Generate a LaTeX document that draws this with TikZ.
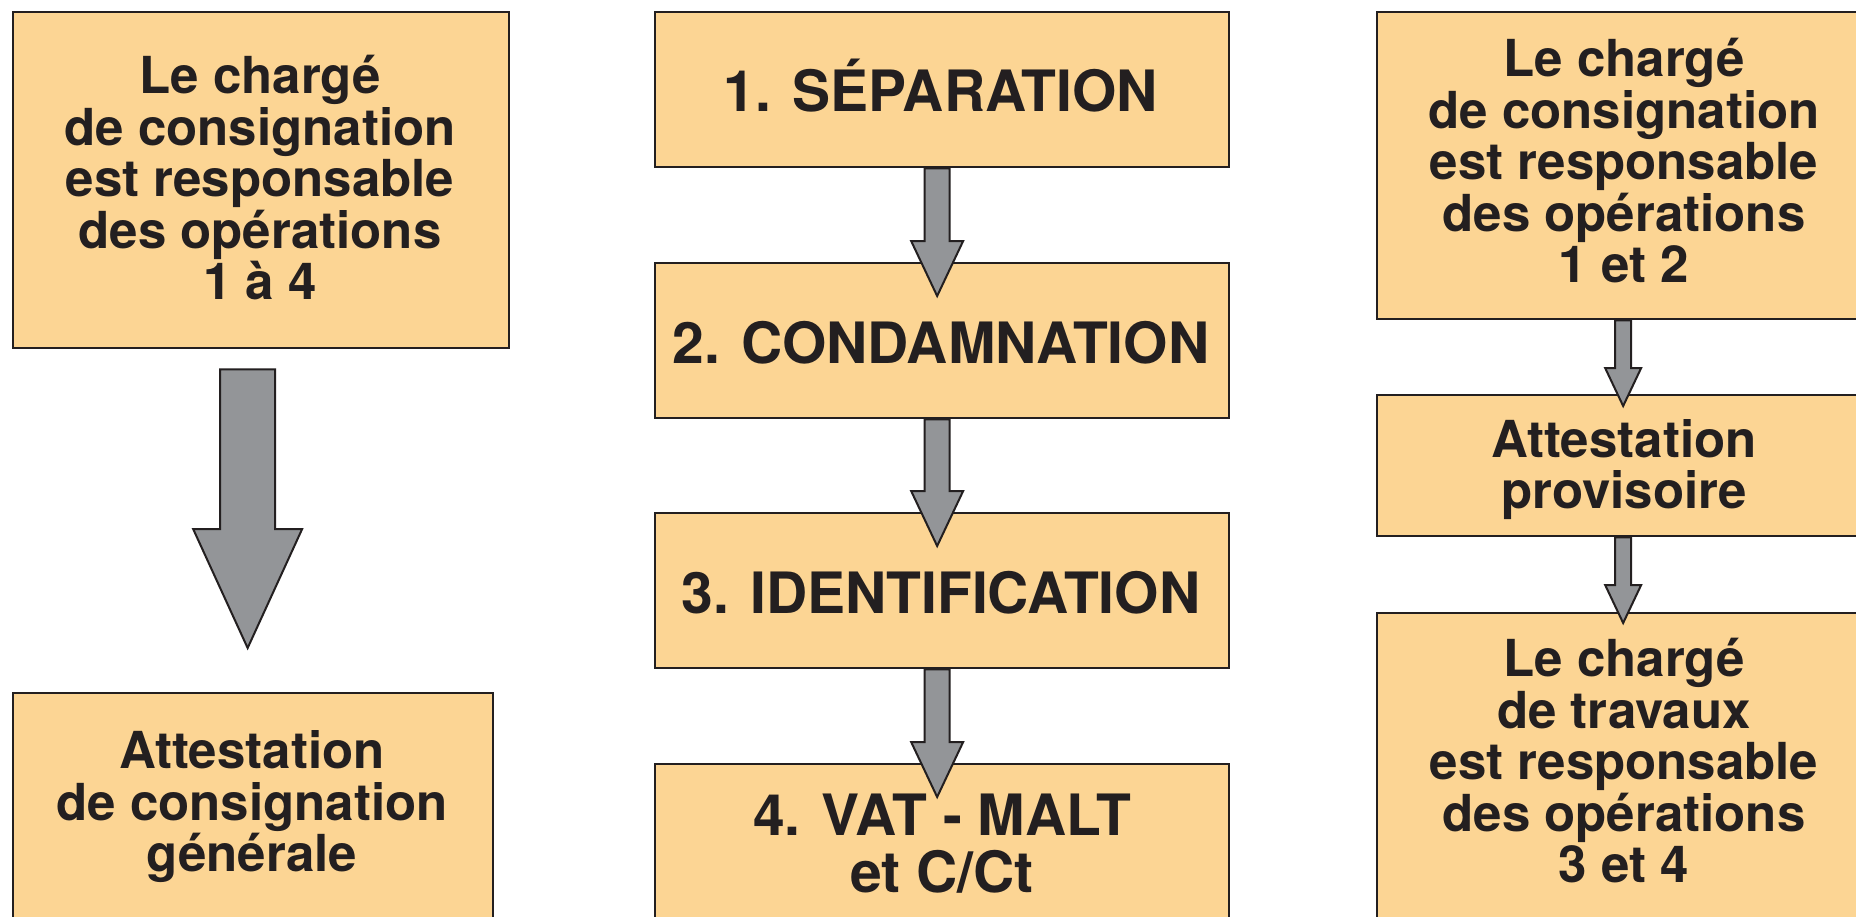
\documentclass[tikz,border=0pt]{standalone}
\usepackage{fontspec}
\setmainfont{TeX Gyre Heros}
\usetikzlibrary{calc}
\definecolor{boxfill}{HTML}{FCD594}
\definecolor{arrowgray}{HTML}{939598}
\definecolor{edgeink}{HTML}{231F20}
\newcommand\sidefont{\fontsize{51}{51.5}\selectfont\bfseries}
\newcommand\midfont{\fontsize{57}{57}\selectfont\bfseries}
% #1 from node, #2 to node, #3 x offset, #4 start gap, #5 tip depth into target,
% #6 half shaft width, #7 head length, #8 half head width
\newcommand\grayarrow[8]{%
  \draw[arrowshape] let \p1=($(#1.south)+(#3,{-(#4)})$), \p2=($(#2.north)+(#3,{-(#5)})$) in
    (\x1-#6,\y1) -- (\x1-#6,\y2+#7) -- (\x1-#8,\y2+#7) -- (\x1,\y2)
    -- (\x1+#8,\y2+#7) -- (\x1+#6,\y2+#7) -- (\x1+#6,\y1) -- cycle;}
\tikzset{
  box/.style={draw=edgeink, fill=boxfill, line width=2.3pt, rectangle, inner sep=0pt, anchor=north west},
  sidetext/.style={text=edgeink, align=center, inner sep=0pt, font=\sidefont},
  midtext/.style={text=edgeink, align=center, inner sep=0pt, font=\midfont},
  arrowshape/.style={draw=edgeink, fill=arrowgray, line width=2pt, line join=miter},
}
\begin{document}
\begin{tikzpicture}[x=1pt,y=1pt]
\useasboundingbox (0,0) rectangle (1856,-916);
\clip (0,0) rectangle (1856,-916);
\fill[white] (0,0) rectangle (1856,-916);
% left column
\node[box, minimum width=496, minimum height=336] (A) at (12,-11) {};
\node[box, minimum width=480, minimum height=230] (B) at (12,-692) {};
% middle column
\node[box, minimum width=574, minimum height=155] (M1) at (654,-11) {};
\node[box, minimum width=574, minimum height=155] (M2) at (654,-262) {};
\node[box, minimum width=574, minimum height=155] (M3) at (654,-512) {};
\node[box, minimum width=574, minimum height=167] (M4) at (654,-763) {};
% right column
\node[box, minimum width=496, minimum height=307] (R1) at (1376,-11) {};
\node[box, minimum width=496, minimum height=141] (R2) at (1376,-394) {};
\node[box, minimum width=496, minimum height=328] (R3) at (1376,-612) {};
% texts
\node[sidetext] (tA) at (260,-178) {Le chargé\\de consignation\\est responsable\\des opérations\\1 à 4};
\node[sidetext] (tB) at (252,-807) {Attestation\\de consignation\\générale};
\node[midtext, anchor=base] (tM1) at (941,-111) {1. SÉPARATION};
\node[midtext, anchor=base] (tM2) at (941,-363) {2. CONDAMNATION};
\node[midtext, anchor=base] (tM3) at (941,-613) {3. IDENTIFICATION};
\node[midtext] (tM4) at (942,-843.5) {4. VAT - MALT\\et C/Ct};
\node[sidetext] (tR1) at (1624,-161) {Le chargé\\de consignation\\est responsable\\des opérations\\1 et 2};
\node[sidetext] (tR2) at (1624,-469.5) {Attestation\\provisoire};
\node[sidetext] (tR3) at (1624,-761) {Le chargé\\de travaux\\est responsable\\des opérations\\3 et 4};
% arrows
\grayarrow{A}{B}{-13.5}{20}{-44}{27.5}{119}{54.5}
\grayarrow{M1}{M2}{-5}{0}{34}{12.5}{55}{26}
\grayarrow{M2}{M3}{-5}{0}{34}{12.5}{55}{26}
\grayarrow{M3}{M4}{-5}{0}{34}{12.5}{55}{26}
\grayarrow{R1}{R2}{-2}{0}{12}{8}{38}{18}
\grayarrow{R2}{R3}{-2}{0}{11}{8}{38}{18}
\end{tikzpicture}
\end{document}
